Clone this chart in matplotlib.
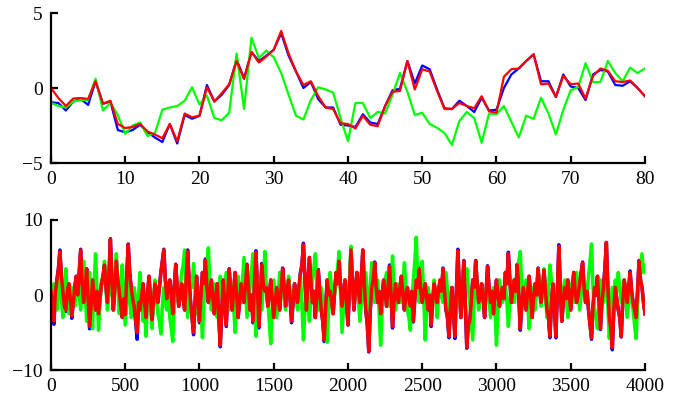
import numpy as np
import matplotlib

matplotlib.use("Agg")
import matplotlib.pyplot as plt

plt.rcParams['font.family'] = ['Liberation Serif', 'DejaVu Serif']
plt.rcParams['font.size'] = 14

# top panel: 81 samples per series
top_blue = [-0.95, -1.0, -1.5, -0.9, -0.73, -1.13, 0.45, -1.05, -0.9, -2.8,
            -2.95, -2.8, -2.45, -2.95, -3.3, -3.6, -2.4, -3.7, -1.8, -2.05,
            -1.85, 0.2, -0.9, -0.45, 0.2, 1.9, 0.65, 2.4, 1.8, 2.15,
            2.55, 3.65, 2.15, 1.1, 0.0, 0.4, -0.75, -1.3, -1.3, -2.45,
            -2.5, -2.6, -1.75, -2.3, -2.4, -1.2, -0.15, -0.05, 1.8, 0.3,
            1.5, 1.25, -0.1, -1.35, -1.4, -0.85, -1.2, -1.6, -0.65, -1.5,
            -1.45, 0.0, 0.9, 1.3, 1.8, 2.25, 0.45, 0.45, -0.6, 0.9,
            0.1, 0.0, -0.8, 0.9, 1.2, 1.1, 0.2, 0.15, 0.45, 0.0, -0.55]
top_green = [-1.0, -1.2, -1.3, -0.9, -0.8, -0.8, 0.62, -1.5, -1.0, -1.8,
             -3.05, -2.5, -2.3, -3.2, -3.0, -1.45, -1.3, -1.2, -0.85, 0.05,
             -1.1, -0.5, -2.0, -2.15, -1.65, 2.3, -1.4, 3.35, 2.0, 2.5,
             2.05, 1.0, -0.45, -1.85, -2.1, -0.8, 0.05, -0.1, -0.3, -2.0,
             -3.55, -1.0, -1.0, -2.0, -1.6, -1.7, -0.45, 1.0, -0.25, -1.8,
             -1.65, -2.4, -2.65, -3.0, -3.8, -2.2, -1.6, -2.0, -3.65, -1.7,
             -1.75, -1.2, -2.25, -3.3, -1.85, -2.05, -0.65, -1.7, -3.1, -1.45,
             -0.15, 0.05, 1.65, 0.4, 0.4, 1.8, 1.0, 0.45, 1.35, 1.0, 1.3]
top_red = [0.0, -0.67, -1.2, -0.7, -0.67, -0.73, 0.45, -1.05, -0.85, -2.4,
           -2.67, -2.6, -2.4, -2.9, -3.1, -3.35, -2.4, -3.55, -1.7, -1.95,
           -1.85, 0.05, -0.9, -0.35, 0.25, 1.8, 0.6, 2.4, 1.7, 2.1,
           2.55, 3.8, 2.3, 1.1, 0.2, 0.45, -0.55, -1.3, -1.4, -2.35,
           -2.4, -2.7, -1.85, -2.45, -2.55, -1.2, -0.25, -0.2, 1.8, -0.1,
           1.25, 1.1, -0.2, -1.4, -1.4, -1.0, -1.2, -1.35, -0.55, -1.55,
           -1.65, 0.75, 1.25, 1.3, 1.8, 2.25, 0.25, 0.3, -0.6, 0.8,
           0.25, 0.3, -0.7, 0.8, 1.3, 1.15, 0.45, 0.4, 0.5, 0.0, -0.55]

# bottom panel: read roughly every 10th sample of 4000
bot_step = 10
bot_red = [
    0.5, -1.0, -3.5, 0.5, 2.0, 3.5, 5.8, 2.5, 0.5, -1.5, -2.0, 0.5, 1.5, -0.5, -2.8, -1.0, 1.0, 2.5, 0.0, 3.0,
    6.0, 1.5, -1.0, 1.0, 3.5, -0.5, -4.2, -1.5, 2.0, 0.0, -2.0, 0.5, -2.5, -0.5, 1.5, 2.5, 4.0, 1.0, -1.0, 2.5,
    7.4, 2.0, -2.0, 1.0, 4.5, 2.0, 0.5, -1.5, -3.0, -0.5, -2.6, 2.5, 6.7, 3.0, 1.0, -0.5, -1.5, -3.5, -5.0, -1.0,
    -2.0, 0.0, 1.5, -1.0, -3.0, 0.0, 2.5, -0.5, -3.3, -1.0, 1.5, 0.5, -1.0, 1.0, 3.0, 4.5, 6.0, 2.0, -0.5, 1.0,
    2.0, 0.0, -2.5, 1.0, 4.0, 1.0, -1.5, 0.5, 1.5, -0.5, -2.0, 2.0, 5.8, 2.0, -1.0, -3.0, -5.0, -1.0, 2.5, -0.5,
    -3.5, 0.0, 3.0, 1.5, 4.6, 1.0, -1.0, 0.5, 2.0, -0.5, -2.5, 0.0, 1.5, -3.0, -6.7, -2.0, 2.0, -1.0, -4.0, 0.0,
    3.4, 0.5, -2.0, 0.5, 3.0, 0.0, -3.0, -1.0, 1.5, 0.0, -1.0, 1.5, 4.0, 1.0, -2.0, 0.0, -3.5, 1.5, 5.7, 1.0,
    -4.2, 0.0, 4.0, 1.5, 0.5, 1.0, -1.5, 0.0, 2.0, -0.5, -3.0, -1.0, 1.0, -0.5, -2.0, 1.0, 3.5, 1.0, -1.5, 0.5,
    2.0, -0.5, -3.5, -1.0, 1.5, 0.0, -1.0, 1.0, 3.0, 4.0, 6.7, 2.0, -2.0, 1.5, 5.0, 2.0, -1.0, 0.5, -3.0, 0.0,
    3.3, 0.5, -2.0, -3.5, -6.0, -1.5, 2.0, 0.0, 0.5, -1.0, -2.5, 0.5, 3.0, 1.5, 4.5, 1.0, -1.5, 0.5, 2.0, -1.0,
    -4.0, 1.0, 6.0, 2.0, -2.0, 0.5, 3.0, 0.5, -1.0, 2.5, 6.0, 1.5, -2.0, -4.0, -7.5, -2.0, 1.0, 2.0, 4.3, 1.0,
    -1.0, 0.5, -2.5, -0.5, 2.0, 0.5, -1.5, 1.0, 3.8, 0.0, -4.2, -1.0, 1.5, 0.0, -1.0, 1.0, 2.5, 0.0, -2.0, 0.0,
    1.0, -0.5, -1.5, 0.5, -3.5, -0.5, 2.0, 1.0, 3.4, 0.5, -1.0, 0.5, 1.5, -0.5, -2.0, 0.0, -4.0, -1.0, 1.5, 0.5,
    -1.0, 0.5, 2.0, 0.5, 3.5, 0.5, -2.0, -3.0, -5.5, -1.5, 1.0, -2.0, -5.5, 0.5, 5.9, 1.0, -3.0, 0.5, 4.5, -1.0,
    -7.0, -4.0, -3.5, -1.0, 2.0, 1.0, 4.5, 1.5, -1.0, 0.0, 1.5, -0.5, -3.0, 0.5, 3.8, 1.0, -1.0, 0.5, -2.5, 0.0,
    2.0, 0.0, -1.5, 0.0, 1.0, -0.5, 3.0, 1.5, 5.5, 2.0, -1.0, 0.5, 2.0, 0.5, 4.0, 0.0, -4.5, -1.5, 1.0, -0.5,
    -2.0, 0.5, 2.5, 0.0, -3.0, -0.5, 1.5, 0.0, 3.5, 1.0, -1.0, 1.0, 3.3, 0.5, -2.0, -3.0, -5.5, -1.0, 1.5, -1.5,
    -5.5, 0.5, 6.5, 1.0, -3.5, -1.0, 1.0, -0.5, 2.0, 0.0, -2.0, 0.5, 3.0, 0.5, -1.0, 0.0, 1.5, 3.0, 4.3, 1.0,
    -1.0, 0.5, -2.0, -4.0, -5.7, -1.5, 1.0, 0.0, 2.5, -1.0, -4.5, -1.0, 1.0, 3.5, 7.0, 1.0, -3.0, -4.5, -7.0, -2.0,
    1.0, -0.5, -2.0, -3.0, -5.5, -1.0, 2.0, 0.5, -1.0, 1.0, 3.0, 0.5, -1.0, -2.0, -3.0, 0.5, 4.5, 2.0, 1.0, -1.0,
    -2.5]
# blue sits under red; these are the sample positions where its tips show
bot_blue_tips = {20: -3.9, 60: 6.0, 100: -2.2, 140: -3.1, 200: 6.1, 260: -4.5,
                 320: -2.6, 400: 7.5, 500: -2.8, 520: 6.8, 580: -5.9, 640: -3.2,
                 680: -3.5, 760: 6.1, 840: 4.1, 920: 6.0, 960: -5.3, 1000: -3.7,
                 1040: 4.8, 1140: -6.9, 1180: -4.2, 1200: 3.5, 1320: 4.1,
                 1360: -3.7, 1380: 5.9, 1400: -4.4, 1420: 4.2, 1560: 3.6,
                 1620: -3.7, 1700: 6.9, 1800: 3.4, 1840: -6.2, 1940: 4.6,
                 2020: 6.1, 2140: -7.6, 2180: 4.4, 2280: 4.0, 2300: -4.4,
                 2440: -3.6, 2480: 3.6, 2560: -4.2, 2640: 3.6, 2680: -5.7,
                 2720: -5.8, 2740: 6.1, 2780: 4.6, 2800: -7.1, 2860: 4.6,
                 2940: 3.9, 3080: 5.7, 3140: 4.1, 3160: -4.7, 3280: 3.6,
                 3320: 3.4, 3360: -5.7, 3400: -5.7, 3420: 6.7, 3580: 4.4,
                 3640: -5.9, 3700: -4.6, 3780: -7.3, 3840: -5.6, 3900: 3.2,
                 3960: 4.6}
bot_green = [
    -1.0, 0.5, 1.5, -0.5, -2.0, 0.5, 2.5, -0.5, -3.0, 0.5, 3.5, 0.0, -2.5, -0.5, 1.0, 0.0, -1.5, 0.5, 2.0, 0.0,
    -2.0, 1.0, 4.5, 0.5, -3.5, 0.0, 3.0, -1.0, -4.5, 1.0, 5.5, 0.5, -4.7, -1.0, 2.0, 1.5, 4.5, 1.0, -2.0, 0.0,
    3.0, 0.5, -1.0, 2.0, 5.5, 1.0, -2.5, 0.5, 4.0, 0.0, -4.0, -1.0, 2.0, -0.5, -3.0, -1.0, 1.0, -0.5, -2.5, 0.0,
    3.0, -0.5, -3.5, -2.0, -5.5, -1.0, 1.5, -1.5, -4.5, -1.0, 2.0, -0.5, -2.5, -3.5, -5.2, -1.5, 1.0, -1.0, -2.0, 0.0,
    -3.0, -4.5, -6.2, -1.5, 2.0, 0.0, -1.0, 1.0, 3.0, 4.0, 6.0, 1.0, -3.0, -0.5, 2.0, 1.0, 4.2, 1.0, -2.5, -1.0,
    1.0, -2.0, -5.7, -1.0, 3.0, 4.0, 6.3, 1.5, -2.0, 0.0, 1.5, -0.5, -3.0, 0.0, 2.5, 0.5, -1.0, 1.0, 3.0, 0.5,
    -2.0, 0.0, 1.5, -1.5, -5.0, -1.0, 2.5, 0.5, -1.0, 2.0, 5.0, 1.0, -3.0, -1.0, 1.0, 3.0, 5.5, 0.0, -5.5, -2.0,
    2.0, 0.0, -2.0, 1.5, 5.8, 1.0, -1.0, -3.5, -6.5, -1.5, 2.0, -0.5, -3.0, 0.0, 3.0, 1.5, 1.0, -0.5, -2.0, 0.5,
    2.5, 0.5, -1.5, 0.0, 1.0, -0.5, -2.0, 0.5, 2.5, -1.5, -6.0, -2.0, 1.0, -1.0, -3.5, -0.5, 2.0, 3.5, 5.5, 1.0,
    -2.0, 0.0, 1.0, -0.5, -2.0, -4.0, -6.3, -1.5, 3.0, 0.5, -1.0, 0.0, 1.5, 3.5, 5.8, 0.5, -5.0, -1.5, 2.0, 0.0,
    -2.0, 2.0, 6.5, 2.0, -1.0, 0.5, 2.0, -0.5, -3.5, -1.0, 1.0, 2.0, 3.0, 0.0, -2.0, 1.0, 4.3, 1.5, -1.0, 0.5,
    2.0, -2.5, -6.7, -2.0, 1.0, 2.0, 3.0, 0.5, -1.5, 1.5, 5.2, 1.0, -2.0, 0.0, 1.5, 0.0, -1.0, 1.5, 4.3, 1.0,
    -2.0, -3.0, -4.7, -1.0, 2.0, 4.5, 7.7, 2.0, -1.0, 1.5, 4.5, 0.0, -6.0, -2.0, 1.0, -1.0, -3.0, -0.5, 2.0, 0.0,
    -3.0, -0.5, 1.5, 0.0, -1.0, 1.0, 3.0, 0.5, -2.0, 0.0, 1.0, -1.5, -4.0, -0.5, 2.5, 0.0, -2.0, 1.0, 3.5, 1.5,
    3.5, 1.0, -1.0, -3.5, -6.0, -0.5, 4.3, 1.0, -2.0, 0.0, 1.5, 0.0, -1.0, 0.5, 2.0, -0.5, -3.0, -1.0, 1.0, -2.0,
    -6.7, -2.0, 2.0, 0.5, -1.0, 0.5, 1.5, -1.0, -4.2, -1.0, 2.0, 0.5, -1.0, 1.0, 3.0, 4.5, 5.8, 1.5, -1.0, 0.5,
    2.0, -1.0, -4.5, -1.5, 1.0, 0.0, -2.0, 0.5, 3.5, 1.0, -1.5, 1.0, 3.5, 0.0, -3.0, 0.5, 4.0, 2.0, 1.0, -0.5,
    -2.0, 1.0, 4.0, 1.5, -1.0, 0.5, 2.0, -0.5, -3.0, -0.5, 1.5, 0.0, -1.0, 1.0, 3.0, 0.5, -2.0, 0.0, 2.0, 0.5,
    -1.0, 0.5, 2.5, 4.5, 6.8, 1.0, -2.0, -3.0, -4.5, -1.0, 2.0, 0.5, -1.0, 1.0, 3.0, -1.5, -5.8, -2.0, 1.0, 0.0,
    2.0, 0.5, 3.0, 1.0, -1.0, 0.5, 2.0, -0.5, -3.0, -1.0, 1.0, -0.5, -2.0, -4.0, -5.8, -1.5, 2.5, 4.0, 5.5, 3.0,
    4.0]

top_x = np.arange(len(top_red))
bot_x = np.arange(len(bot_red)) * bot_step
bot_blue = list(bot_red)
for pos, val in bot_blue_tips.items():
    bot_blue[pos // bot_step] = val


def style_axes(ax):
    ax.spines['top'].set_visible(False)
    ax.spines['right'].set_visible(False)
    for s in ('left', 'bottom'):
        ax.spines[s].set_linewidth(1.6)
    ax.tick_params(direction='in', length=5, width=1.6, pad=6,
                   labelsize=14)


fig = plt.figure(figsize=(6.91, 4.05), dpi=100)

ax1 = fig.add_axes([0.0738, 0.5975, 0.8596, 0.3704])
ax1.plot(top_x, top_blue, color='blue', lw=1.6)
ax1.plot(top_x, top_green, color='#00ff00', lw=1.6)
ax1.plot(top_x, top_red, color='red', lw=1.6)
ax1.set_xlim(0, 80)
ax1.set_ylim(-5, 5)
ax1.set_xticks(range(0, 81, 10))
ax1.set_yticks([-5, 0, 5])
style_axes(ax1)

ax2 = fig.add_axes([0.0738, 0.0864, 0.8596, 0.3704])
ax2.plot(bot_x, bot_blue, color='blue', lw=2.5)
ax2.plot(bot_x, bot_green, color='#00ff00', lw=2.5)
ax2.plot(bot_x, bot_red, color='red', lw=2.5)
ax2.set_xlim(0, 4000)
ax2.set_ylim(-10, 10)
ax2.set_xticks(range(0, 4001, 500))
ax2.set_yticks([-10, 0, 10])
style_axes(ax2)

plt.savefig("out.png", dpi=100)
plt.close()
